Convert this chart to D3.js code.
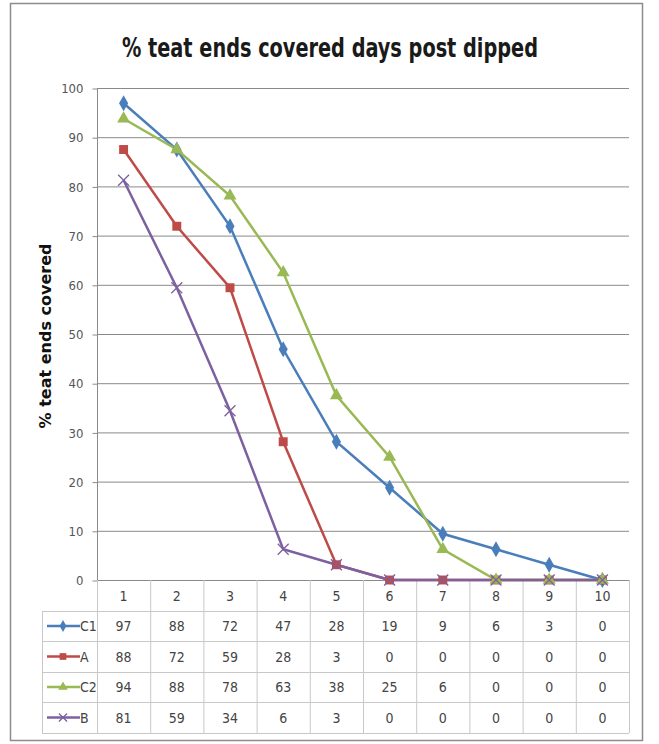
<!DOCTYPE html>
<html>
<head>
<meta charset="utf-8">
<script src="https://cdn.jsdelivr.net/npm/d3@7"></script>
<style>
  body { margin: 0; background: white; }
  text { font-family: "DejaVu Sans", sans-serif; font-stretch: condensed; }
</style>
</head>
<body>
<script>
// data (lines use the plotted values, table shows them rounded)
var days = [1, 2, 3, 4, 5, 6, 7, 8, 9, 10]
var seriesNames = ["C1", "A", "C2", "B"]
var c1 = [96.9, 87.5, 71.9, 46.9, 28.1, 18.75, 9.4, 6.25, 3.1, 0]
var a = [87.5, 71.9, 59.4, 28.1, 3.1, 0, 0, 0, 0, 0]
var c2 = [93.75, 87.5, 78.1, 62.5, 37.5, 25, 6.25, 0, 0, 0]
var b = [81.25, 59.4, 34.4, 6.25, 3.1, 0, 0, 0, 0, 0]
var yTicks = [0, 10, 20, 30, 40, 50, 60, 70, 80, 90, 100]

var series = [
   {name: seriesNames[0], values: c1, color: "#4a7ebb", marker: "diamond"},
   {name: seriesNames[1], values: a, color: "#be4b48", marker: "square"},
   {name: seriesNames[2], values: c2, color: "#98b954", marker: "triangle"},
   {name: seriesNames[3], values: b, color: "#7d60a0", marker: "x"}
]

var width = 659, height = 744
var svg = d3.select("body").append("svg")
   .attr("width", width)
   .attr("height", height)

// outer chart frame
svg.append("rect")
   .attr("x", 10.5).attr("y", 3.5)
   .attr("width", 632).attr("height", 737)
   .style("fill", "white")
   .style("stroke", "#8c8c8c")
   .style("stroke-width", 1.5)

svg.append("text")
   .attr("x", 330).attr("y", 57)
   .attr("text-anchor", "middle")
   .attr("textLength", 416)
   .attr("lengthAdjust", "spacingAndGlyphs")
   .style("font-size", "26px")
   .style("font-weight", "bold")
   .style("fill", "#1a1a1a")
   .text("% teat ends covered days post dipped")

var x = d3.scaleBand().domain(days).range([97, 629])
var y = d3.scaleLinear().domain([0, 100]).range([580, 88])

// gridlines
svg.append("g").selectAll("line")
   .data(yTicks.filter(function (t) { return t > 0; }))
   .enter().append("line")
   .attr("x1", 97).attr("x2", 629)
   .attr("y1", function (d) { return y(d) + 0.5; })
   .attr("y2", function (d) { return y(d) + 0.5; })
   .style("stroke", "#8a8a8a")
   .style("stroke-width", 1)

var yAxis = svg.append("g")
   .attr("transform", "translate(97.5,0.5)")
   .call(d3.axisLeft(y).tickValues(yTicks).tickSize(5).tickPadding(9))
yAxis.select(".domain").style("stroke", "#8a8a8a").attr("d", "M0," + y(100) + "V" + y(0))
yAxis.selectAll(".tick line").style("stroke", "#8a8a8a")
yAxis.selectAll(".tick text")
   .style("font-family", "'DejaVu Sans', sans-serif")
   .style("font-stretch", "condensed")
   .style("font-size", "13px")
   .style("fill", "#555")

svg.append("text")
   .attr("transform", "translate(51,336) rotate(-90)")
   .attr("text-anchor", "middle")
   .style("font-stretch", "normal")
   .style("font-size", "16px")
   .style("font-weight", "bold")
   .style("fill", "#111")
   .text("% teat ends covered")

// data table
var rowTop = [580, 611, 641, 672, 702, 733]
var tableLeft = 42
var gridColor = "#c8c8c8"
var table = svg.append("g")

rowTop.forEach(function (ry, i) {
   table.append("line")
      .attr("x1", i === 0 ? 97 : tableLeft).attr("x2", 629)
      .attr("y1", ry + 0.5).attr("y2", ry + 0.5)
      .style("stroke", i === 0 ? "#8a8a8a" : gridColor)
})
days.forEach(function (d) {
   table.append("line")
      .attr("x1", x(d) + 0.5).attr("x2", x(d) + 0.5)
      .attr("y1", 580).attr("y2", 733)
      .style("stroke", gridColor)
})
table.append("line")
   .attr("x1", 629.5).attr("x2", 629.5).attr("y1", 580).attr("y2", 733)
   .style("stroke", gridColor)
table.append("line")
   .attr("x1", tableLeft + 0.5).attr("x2", tableLeft + 0.5).attr("y1", 611).attr("y2", 733)
   .style("stroke", gridColor)

table.selectAll(".hdr")
   .data(days).enter().append("text")
   .attr("x", function (d) { return x(d) + x.bandwidth() / 2; })
   .attr("y", (rowTop[0] + rowTop[1]) / 2 + 5)
   .attr("text-anchor", "middle")
   .style("font-size", "14px")
   .style("fill", "#444")
   .text(function (d) { return d; })

function drawMarker(g, type, color, size) {
   if (type === "diamond") {
      g.append("path").attr("d", d3.symbol().type(d3.symbolDiamond).size(size * 0.9)())
         .style("fill", color)
   } else if (type === "square") {
      g.append("path").attr("d", d3.symbol().type(d3.symbolSquare).size(size)())
         .style("fill", color)
   } else if (type === "triangle") {
      g.append("path").attr("d", d3.symbol().type(d3.symbolTriangle).size(size * 0.9)())
         .style("fill", color)
   } else {
      g.append("path").attr("d", d3.symbol().type(d3.symbolX).size(size)())
         .style("fill", "none").style("stroke", color).style("stroke-width", 1.3)
   }
}

series.forEach(function (s, i) {
   var cy = (rowTop[i + 1] + rowTop[i + 2]) / 2
   table.append("line")
      .attr("x1", 47).attr("x2", 80)
      .attr("y1", cy).attr("y2", cy)
      .style("stroke", s.color).style("stroke-width", 2.5)
   drawMarker(table.append("g").attr("transform", "translate(63," + cy + ")"), s.marker, s.color, 45)
   table.append("text")
      .attr("x", 80).attr("y", cy + 5)
      .style("font-size", "14px").style("fill", "#444")
      .text(s.name)
   table.selectAll(".v" + i)
      .data(s.values).enter().append("text")
      .attr("x", function (d, j) { return x(days[j]) + x.bandwidth() / 2; })
      .attr("y", cy + 5)
      .attr("text-anchor", "middle")
      .style("font-size", "14px").style("fill", "#444")
      .text(function (d) { return Math.round(d); })
})

// lines and markers
var line = d3.line()
   .x(function (d, j) { return x(days[j]) + x.bandwidth() / 2; })
   .y(function (d) { return y(d); })

series.forEach(function (s) {
   svg.append("path")
      .datum(s.values)
      .attr("d", line)
      .style("fill", "none")
      .style("stroke", s.color)
      .style("stroke-width", 2.5)
})
series.forEach(function (s) {
   s.values.forEach(function (v, j) {
      var g = svg.append("g")
         .attr("transform", "translate(" + (x(days[j]) + x.bandwidth() / 2) + "," + y(v) + ")")
      drawMarker(g, s.marker, s.color, 80)
   })
})
</script>
</body>
</html>
